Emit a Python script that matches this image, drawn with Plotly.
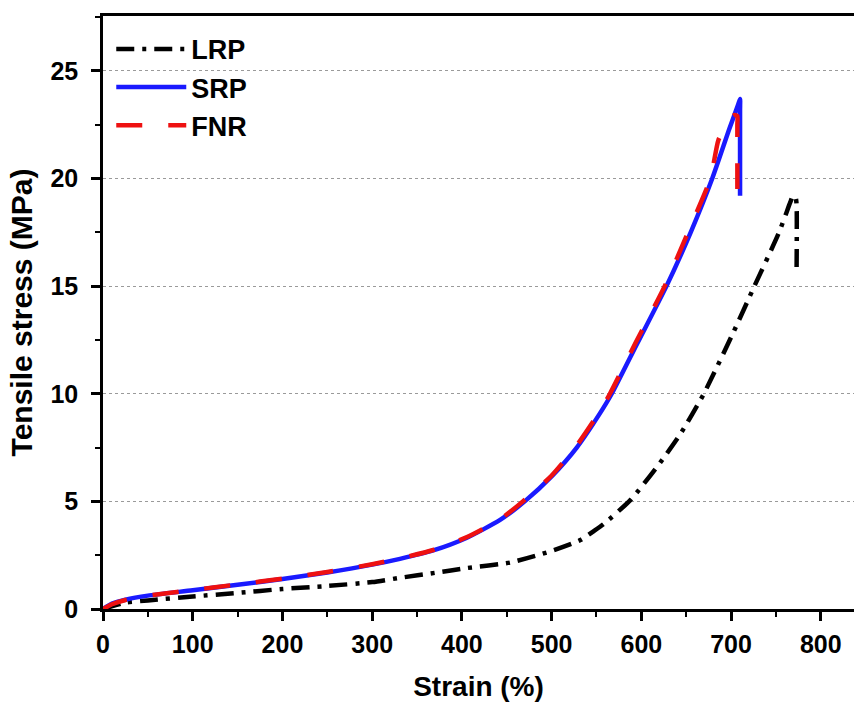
import plotly.graph_objects as go

# ---- data ----
lrp_strain = [0, 25, 50, 100, 150, 200, 250, 300, 331, 370, 405, 454, 498, 532, 547, 558, 588, 621, 643, 669, 702, 726, 753, 766, 769, 772, 773, 773]
lrp_stress = [0, 0.3, 0.4, 0.58, 0.75, 0.93, 1.07, 1.25, 1.45, 1.68, 1.9, 2.16, 2.67, 3.2, 3.62, 3.95, 5.07, 6.8, 8.1, 9.95, 12.8, 15.0, 17.45, 18.9, 19.2, 19.1, 18.8, 15.7]

srp_strain = [0, 10, 25, 50, 100, 150, 200, 250, 300, 331, 368, 405, 443, 470, 500, 528, 554, 567, 595, 628, 655, 679, 698, 708, 710, 710, 710]
srp_stress = [0, 0.25, 0.43, 0.62, 0.87, 1.13, 1.39, 1.7, 2.06, 2.33, 2.72, 3.3, 4.15, 5.0, 6.16, 7.5, 9.1, 10.0, 12.3, 15.0, 17.5, 20.0, 22.3, 23.45, 23.7, 23.2, 19.2]

fnr_strain = [0, 10, 25, 50, 100, 150, 200, 250, 300, 331, 368, 405, 443, 468, 500, 528, 554, 565, 594, 626, 653, 677, 686, 698, 704, 707, 707, 707]
fnr_stress = [0, 0.22, 0.42, 0.62, 0.88, 1.14, 1.41, 1.72, 2.08, 2.35, 2.74, 3.33, 4.18, 5.0, 6.2, 7.6, 9.2, 10.0, 12.4, 15.0, 17.6, 20.0, 21.8, 22.75, 22.95, 22.9, 22.5, 18.4]

x_ticks = [0, 100, 200, 300, 400, 500, 600, 700, 800]
y_ticks = [0, 5, 10, 15, 20, 25]

FONT = "Liberation Sans"

fig = go.Figure()
fig.add_trace(go.Scatter(x=lrp_strain, y=lrp_stress, mode="lines", name="LRP",
                         line=dict(color="black", width=4.5, dash="18px,8px,4px,8px",
                                   shape="spline", smoothing=0.6)))
fig.add_trace(go.Scatter(x=srp_strain, y=srp_stress, mode="lines", name="SRP",
                         line=dict(color="#1a1aff", width=4.5, shape="spline", smoothing=0.6)))
fig.add_trace(go.Scatter(x=fnr_strain, y=fnr_stress, mode="lines", name="FNR",
                         line=dict(color="#ee1111", width=4.5, dash="26px,26px",
                                   shape="spline", smoothing=0.6)))

fig.update_layout(
    width=854, height=706,
    margin=dict(l=103, r=0, t=16, b=97),
    paper_bgcolor="white", plot_bgcolor="white",
    font=dict(family=FONT, color="black", weight="bold"),
    showlegend=True,
    legend=dict(x=0.011, y=0.985, xanchor="left", yanchor="top",
                bgcolor="rgba(0,0,0,0)", itemwidth=70,
                font=dict(size=27, family=FONT, weight="bold"),
                tracegroupgap=0),
)

fig.update_xaxes(
    range=[0, 837], tickvals=x_ticks,
    showline=True, linecolor="black", linewidth=2.5, mirror=True,
    ticks="outside", ticklen=9, tickwidth=2.5, tickcolor="black",
    minor=dict(ticks="outside", ticklen=5, tickwidth=2, tickcolor="black", dtick=50, showgrid=False),
    showgrid=False, zeroline=False,
    tickfont=dict(size=25, family=FONT, weight="bold"),
    ticklabelstandoff=2,
    title=dict(text="Strain (%)", font=dict(size=28, family=FONT, weight="bold"), standoff=20),
)
fig.update_yaxes(
    range=[0, 27.55], tickvals=y_ticks,
    showline=True, linecolor="black", linewidth=2.5,
    ticks="outside", ticklen=9, tickwidth=2.5, tickcolor="black",
    minor=dict(ticks="outside", ticklen=5, tickwidth=2, tickcolor="black", dtick=2.5, showgrid=False),
    showgrid=True, gridcolor="#9a9a9a", gridwidth=1.2, griddash="3px,3px",
    zeroline=False,
    tickfont=dict(size=25, family=FONT, weight="bold"),
    ticklabelstandoff=8,
    title=dict(text="Tensile stress (MPa)", font=dict(size=30, family=FONT, weight="bold"), standoff=9),
)

fig.write_html("out.html")
